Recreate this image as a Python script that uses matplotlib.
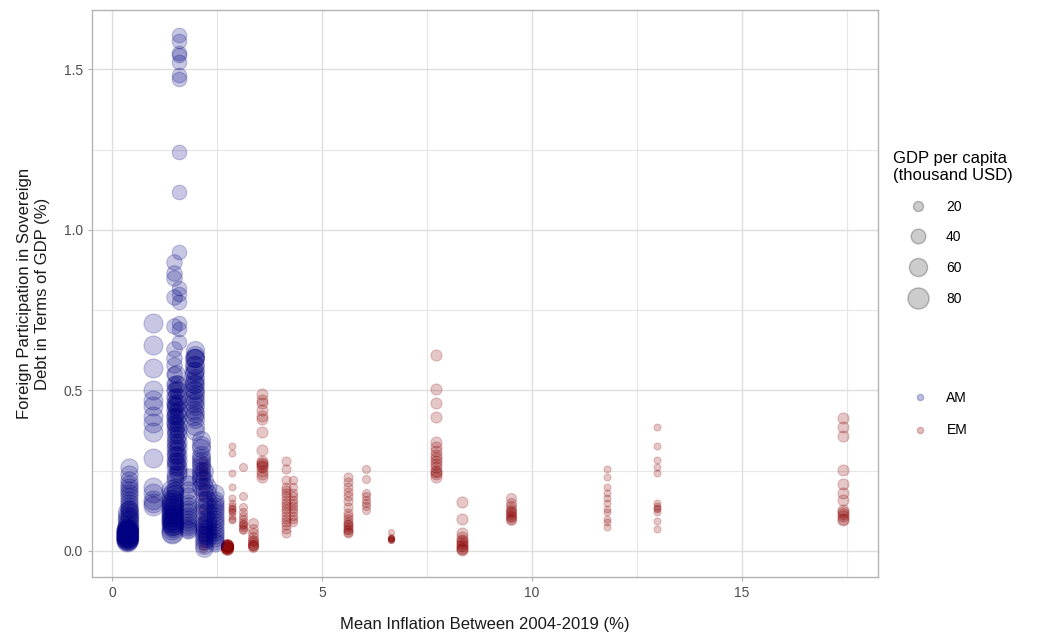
import numpy as np
import matplotlib
matplotlib.use('Agg')
import matplotlib.pyplot as plt
from matplotlib.lines import Line2D

plt.rcParams['font.family'] = ['Liberation Sans', 'DejaVu Sans']

# advanced economies (AM): mean inflation, gdp per capita, yearly foreign participation
am_inflacao = [0.36, 0.38, 0.40, 0.98, 1.60, 1.47, 1.52, 1.57, 1.50, 1.42, 1.45, 1.98, 1.96, 1.80, 2.12, 2.20, 2.26, 2.45]
am_pib = [80, 75, 55, 66, 40, 45, 58, 55, 52, 80, 75, 60, 62, 55, 60, 58, 62, 55]
am_part = [
    [0.03, 0.033, 0.036, 0.038, 0.04, 0.042, 0.045, 0.047, 0.05, 0.052, 0.055, 0.058, 0.06, 0.062, 0.065, 0.07],
    [0.035, 0.04, 0.045, 0.05, 0.055, 0.06, 0.065, 0.07, 0.075, 0.08, 0.09, 0.1, 0.11, 0.12],
    [0.1, 0.11, 0.12, 0.13, 0.14, 0.15, 0.16, 0.17, 0.18, 0.19, 0.2, 0.21, 0.22, 0.24, 0.26, 0.13],
    [0.71, 0.64, 0.57, 0.5, 0.47, 0.45, 0.42, 0.4, 0.37, 0.29, 0.2, 0.18, 0.16, 0.15, 0.14],
    [1.606, 1.588, 1.55, 1.544, 1.523, 1.481, 1.471, 1.243, 1.118, 0.932, 0.82, 0.80, 0.775, 0.71, 0.69, 0.65],
    [0.9, 0.865, 0.85, 0.79, 0.7, 0.63, 0.6, 0.58, 0.55, 0.52, 0.5, 0.48, 0.46, 0.44, 0.42, 0.4],
    [0.55, 0.52, 0.5, 0.48, 0.46, 0.45, 0.43, 0.41, 0.39, 0.37, 0.35, 0.33, 0.31, 0.3, 0.28, 0.27],
    [0.52, 0.5, 0.48, 0.46, 0.44, 0.42, 0.4, 0.38, 0.36, 0.34, 0.32, 0.3, 0.28, 0.26, 0.25, 0.24],
    [0.45, 0.42, 0.4, 0.38, 0.36, 0.34, 0.32, 0.3, 0.28, 0.26, 0.24, 0.23, 0.22, 0.2, 0.19, 0.18],
    [0.19, 0.17, 0.16, 0.15, 0.14, 0.13, 0.12, 0.115, 0.11, 0.1, 0.095, 0.09, 0.08, 0.07, 0.06, 0.055],
    [0.18, 0.16, 0.15, 0.14, 0.13, 0.12, 0.11, 0.1, 0.09, 0.085, 0.08, 0.075],
    [0.625, 0.61, 0.6, 0.58, 0.56, 0.54, 0.52, 0.5, 0.49, 0.47, 0.45, 0.43, 0.41, 0.39, 0.375, 0.6],
    [0.6, 0.58, 0.56, 0.55, 0.53, 0.52, 0.5, 0.48, 0.46, 0.44, 0.42],
    [0.23, 0.21, 0.19, 0.17, 0.15, 0.14, 0.13, 0.12, 0.11, 0.1, 0.09, 0.08, 0.075, 0.07, 0.065],
    [0.345, 0.33, 0.32, 0.3, 0.29, 0.28, 0.27, 0.26, 0.25, 0.24, 0.23, 0.22, 0.2],
    [0.25, 0.22, 0.2, 0.18, 0.16, 0.14, 0.12, 0.1, 0.08, 0.07, 0.06, 0.05, 0.04, 0.03, 0.02, 0.01],
    [0.2, 0.18, 0.16, 0.14, 0.12, 0.1, 0.09, 0.08, 0.07, 0.06, 0.05, 0.04],
    [0.18, 0.16, 0.15, 0.14, 0.13, 0.12, 0.11, 0.1, 0.09, 0.08, 0.07, 0.06, 0.05, 0.04, 0.03, 0.025],
]

# emerging economies (EM)
em_inflacao = [2.17, 2.74, 2.86, 3.12, 3.36, 3.57, 4.15, 4.30, 5.62, 6.05, 6.64, 7.71, 8.33, 9.50, 11.79, 12.97, 17.40]
em_pib = [16, 28, 11, 14, 20, 24, 17, 15, 17, 14, 9, 24, 24, 20, 11, 11, 24]
em_part = [
    [0.28, 0.26, 0.25, 0.24, 0.22, 0.2, 0.17, 0.13, 0.1, 0.07, 0.04, 0.02, 0.01],
    [0.005, 0.008, 0.01, 0.012, 0.014, 0.015, 0.016, 0.018, 0.02, 0.01, 0.012, 0.015],
    [0.327, 0.305, 0.243, 0.2, 0.165, 0.15, 0.14, 0.135, 0.13, 0.125, 0.12, 0.11, 0.1, 0.097],
    [0.26, 0.17, 0.137, 0.12, 0.11, 0.1, 0.09, 0.085, 0.08, 0.075, 0.07, 0.065],
    [0.087, 0.07, 0.056, 0.045, 0.035, 0.03, 0.025, 0.02, 0.018, 0.015, 0.012],
    [0.49, 0.47, 0.46, 0.44, 0.42, 0.41, 0.37, 0.314, 0.28, 0.275, 0.27, 0.265, 0.26, 0.25, 0.24, 0.23],
    [0.28, 0.255, 0.22, 0.2, 0.19, 0.18, 0.17, 0.16, 0.15, 0.14, 0.13, 0.12, 0.11, 0.1, 0.09, 0.08, 0.07, 0.056],
    [0.22, 0.2, 0.18, 0.17, 0.16, 0.15, 0.14, 0.13, 0.12, 0.11, 0.1, 0.09],
    [0.23, 0.215, 0.2, 0.185, 0.17, 0.155, 0.137, 0.118, 0.11, 0.1, 0.09, 0.085, 0.08, 0.075, 0.07, 0.065, 0.06, 0.056],
    [0.255, 0.224, 0.18, 0.17, 0.16, 0.15, 0.14, 0.128],
    [0.06, 0.045, 0.04, 0.038, 0.035, 0.035, 0.037, 0.04],
    [0.61, 0.504, 0.46, 0.417, 0.34, 0.325, 0.31, 0.3, 0.29, 0.28, 0.27, 0.26, 0.25, 0.245, 0.24, 0.23],
    [0.152, 0.1, 0.056, 0.044, 0.035, 0.03, 0.025, 0.02, 0.015, 0.01, 0.005, 0.003],
    [0.165, 0.15, 0.14, 0.13, 0.125, 0.12, 0.115, 0.11, 0.105, 0.1, 0.097],
    [0.255, 0.23, 0.2, 0.18, 0.165, 0.15, 0.13, 0.12, 0.1, 0.09, 0.075],
    [0.386, 0.327, 0.283, 0.262, 0.243, 0.15, 0.14, 0.135, 0.13, 0.12, 0.093, 0.07],
    [0.414, 0.386, 0.358, 0.252, 0.21, 0.18, 0.16, 0.128, 0.12, 0.115, 0.11, 0.1, 0.097],
]

legenda_pib = [20, 40, 60, 80]

azul = '#000080'
vermelho = '#8B0000'


def diametro(pib):
    # diameter in points, area roughly proportional to gdp
    return np.sqrt(np.maximum(5.7 * np.asarray(pib, dtype=float) - 14, 9)) * 0.72


def desenhar(ax, inflacao, pib, part, cor):
    for x, g, ys in zip(inflacao, pib, part):
        xs = np.full(len(ys), x)
        ax.scatter(xs, ys, s=diametro(g) ** 2, color=cor, alpha=0.22,
                   edgecolors=cor, linewidths=0.8, zorder=3)


fig = plt.figure(figsize=(10.44, 6.37), dpi=100)
ax = fig.add_axes([0.0881, 0.0942, 0.841 - 0.0881, 0.984 - 0.0942])

desenhar(ax, em_inflacao, em_pib, em_part, vermelho)
desenhar(ax, am_inflacao, am_pib, am_part, azul)

ax.set_xlim(-0.476, 18.24)
ax.set_ylim(-0.081, 1.684)
ax.set_xticks([0, 5, 10, 15])
ax.set_yticks([0.0, 0.5, 1.0, 1.5])
ax.set_yticklabels(['0.0', '0.5', '1.0', '1.5'])
ax.set_xticks([2.5, 7.5, 12.5, 17.5], minor=True)
ax.set_yticks([0.25, 0.75, 1.25], minor=True)
ax.grid(True, which='major', color='#dedede', linewidth=1.0, zorder=0)
ax.grid(True, which='minor', color='#e6e6e6', linewidth=0.8, zorder=0)
ax.set_axisbelow(True)
for sp in ax.spines.values():
    sp.set_color('#b3b3b3')
    sp.set_linewidth(1.0)
ax.tick_params(which='major', length=3, color='#b3b3b3', labelcolor='#4d4d4d', labelsize=10)
ax.tick_params(which='minor', length=0)

ax.set_xlabel('Mean Inflation Between 2004-2019 (%)', fontsize=12, color='#1a1a1a', labelpad=12)
ax.set_ylabel('Foreign Participation in Sovereign\nDebt in Terms of GDP (%)', fontsize=12,
              color='#1a1a1a', labelpad=10)

# size legend
alcas = [Line2D([], [], linestyle='none', marker='o', markersize=diametro(g),
                markerfacecolor=(0, 0, 0, 0.2), markeredgecolor=(0, 0, 0, 0.25))
         for g in legenda_pib]
leg1 = fig.legend(alcas, [str(g) for g in legenda_pib], title='GDP per capita\n(thousand USD)',
                  loc='upper left', bbox_to_anchor=(0.853, 0.768), frameon=False,
                  fontsize=10, title_fontsize=12, labelspacing=1.2, handlelength=3.6,
                  handletextpad=0.2, borderaxespad=0, borderpad=0.2)
leg1._legend_box.align = 'left'

alcas2 = [Line2D([], [], linestyle='none', marker='o', markersize=4.5,
                 markerfacecolor=c, markeredgecolor=c, alpha=0.25) for c in [azul, vermelho]]
fig.legend(alcas2, ['AM', 'EM'], loc='upper left', bbox_to_anchor=(0.856, 0.39),
           frameon=False, fontsize=10, labelspacing=1.3, handlelength=3.4,
           handletextpad=0.2, borderaxespad=0, borderpad=0.2)

fig.savefig('out.png', dpi=100)
